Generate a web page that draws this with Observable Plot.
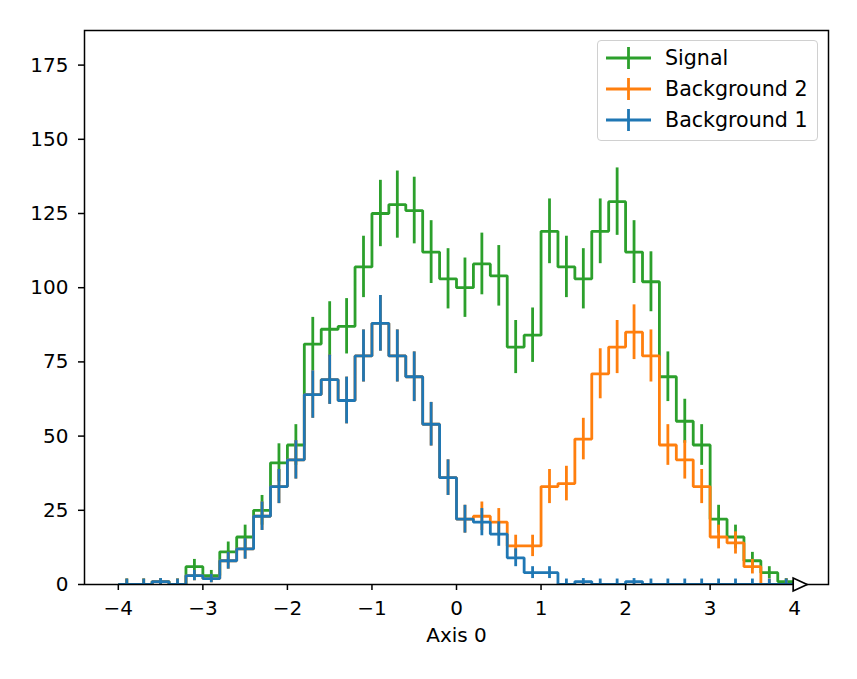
<!DOCTYPE html>
<html>
<head>
<meta charset="utf-8">
<script src="https://cdn.jsdelivr.net/npm/d3@7"></script>
<script src="https://cdn.jsdelivr.net/npm/@observablehq/plot@0.6"></script>
<style>
  body { margin: 0; background: #fff; font-family: "DejaVu Sans", sans-serif; }
  #wrap { position: relative; width: 857px; height: 679px; }
  #legend { position: absolute; left: 597px; top: 40px; width: 221px; height: 101px;
            border: 1.3px solid #d0d0d0; border-radius: 4px; background: rgba(255,255,255,0.8);
            box-sizing: border-box; }
  .row { position: absolute; left: 0; height: 30px; width: 218px; }
  .row svg { position: absolute; left: 0; top: 0; }
  .row span { position: absolute; left: 67px; top: 0; line-height: 30px; font-size: 20.6px; color: #000; white-space: nowrap; }
</style>
</head>
<body>
<div id="wrap"><div id="chart"></div><div id="legend"></div></div>
<script>
// Bin edges (40 bins from -4 to 4)
const edges = [-4.0,-3.8,-3.6,-3.4,-3.2,-3.0,-2.8,-2.6,-2.4,-2.2,-2.0,-1.8,-1.6,-1.4,-1.2,-1.0,-0.8,-0.6,-0.4,-0.2,
               0.0,0.2,0.4,0.6,0.8,1.0,1.2,1.4,1.6,1.8,2.0,2.2,2.4,2.6,2.8,3.0,3.2,3.4,3.6,3.8,4.0];
// Per-bin counts of each component (stacked: Background 1, Background 2, Signal)
const background1 = [0,0,1,0,3,2,8,12,23,33,42,64,69,62,77,88,77,70,54,36,
                     22,21,17,9,4,4,0,1,0,0,1,0,0,0,0,0,0,0,0,0];
const background2 = [0,0,0,0,0,0,0,0,0,0,0,0,0,0,0,0,0,0,0,0,
                     0,2,4,4,9,29,34,48,71,80,84,77,47,42,33,16,14,6,0,0];
const signal      = [0,0,0,0,3,1,3,4,2,8,5,17,17,25,30,37,51,56,58,67,
                     78,85,83,67,71,86,73,54,48,49,27,25,23,13,14,6,2,2,4,1];
const seriesNames = ["Background 1", "Background 2", "Signal"];
const seriesColors = ["#1f77b4", "#ff7f0e", "#2ca02c"];
const xTicks = [-4,-3,-2,-1,0,1,2,3,4];
const yTicks = [0,25,50,75,100,125,150,175];
const xLabel = "Axis 0";

// stacking
const stack1 = background1.map(v => v);
const stack2 = stack1.map((v, i) => v + background2[i]);
const stack3 = stack2.map((v, i) => v + signal[i]);
const stacks = [stack1, stack2, stack3];

const stepData = vals => edges.map((e, i) => ({x: e, y: vals[Math.min(i, vals.length - 1)]}));
const errData = vals => vals.map((v, i) => ({
  x: (edges[i] + edges[i + 1]) / 2,
  lo: v > 0 ? v - Math.sqrt(v) : 0,
  hi: v > 0 ? v + Math.sqrt(v) : 1.84
}));

const triRight = {
  draw(context) {
    context.moveTo(7.5, 0);
    context.lineTo(-6.5, -6.5);
    context.lineTo(-6.5, 6.5);
    context.closePath();
  }
};

const lw = 2.8;
const seriesMarks = [2, 1, 0].flatMap(s => [
  Plot.line(stepData(stacks[s]), {x: "x", y: "y", curve: "step-after", stroke: seriesColors[s],
    strokeWidth: lw, strokeLinejoin: "miter", strokeLinecap: "butt", clip: true}),
  Plot.ruleX(errData(stacks[s]), {x: "x", y1: "lo", y2: "hi", stroke: seriesColors[s], strokeWidth: lw})
]);

const chart = Plot.plot({
  width: 857, height: 679,
  marginLeft: 84, marginRight: 29, marginTop: 30, marginBottom: 95,
  style: {fontFamily: "DejaVu Sans", fontSize: "20px", color: "#000", background: "#fff", overflow: "visible"},
  x: {domain: [-4.4, 4.4]},
  y: {domain: [0, 186.66]},
  marks: [
    ...seriesMarks,
    Plot.axisX({ticks: xTicks, tickSize: 6, tickPadding: 10, strokeWidth: 1.5,
      label: xLabel, labelAnchor: "center", labelArrow: false, labelOffset: 57, fontSize: 20}),
    Plot.axisY({ticks: yTicks, tickSize: 6, tickPadding: 10, strokeWidth: 1.5, label: null, fontSize: 20}),
    Plot.frame({stroke: "#000", strokeWidth: 1.5}),
    Plot.dot([{x: 4, y: 0}], {x: "x", y: "y", symbol: triRight, r: 6, dx: 5, fill: "#fff", stroke: "#000", strokeWidth: 1.7})
  ]
});
document.getElementById("chart").appendChild(chart);

// legend (order: Signal, Background 2, Background 1)
const legend = document.getElementById("legend");
const rowsTop = [2, 33, 64];
[2, 1, 0].forEach((s, j) => {
  const row = document.createElement("div");
  row.className = "row";
  row.style.top = rowsTop[j] + "px";
  row.innerHTML = `<svg width="60" height="30"><line x1="8" x2="53" y1="15" y2="15" stroke="${seriesColors[s]}" stroke-width="${lw}"/>` +
    `<line x1="30.5" x2="30.5" y1="4" y2="26" stroke="${seriesColors[s]}" stroke-width="${lw}"/></svg>` +
    `<span>${seriesNames[s]}</span>`;
  legend.appendChild(row);
});
</script>
</body>
</html>
